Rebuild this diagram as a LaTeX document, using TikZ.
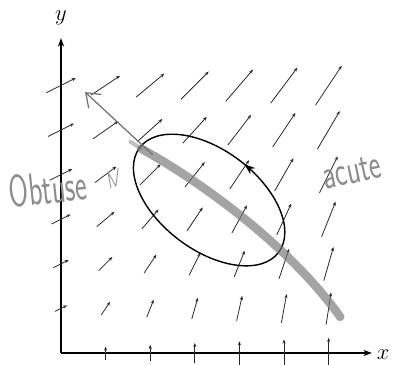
\documentclass[tikz,border=0pt]{standalone}
\usetikzlibrary{arrows.meta,decorations.markings}

\begin{document}
\begin{tikzpicture}[
  vec/.style={-{Stealth[length=2.6pt,width=2pt]}, line width=0.5pt, black!85},
  axis/.style={-{Stealth[length=5.5pt,width=4pt]}, line width=0.7pt},
  orbit/.style={line width=0.9pt, postaction={decorate},
    decoration={markings, mark=at position 0.235 with {\arrow{Stealth[length=7pt,width=5pt]}}}},
  pen/.style={black!55, line cap=round, line join=round},
  note/.style={black!45, font=\sffamily\fontsize{18}{20}\selectfont, inner sep=0pt},
  lbl/.style={font=\fontsize{14}{16}\selectfont, inner sep=1pt}
]
\useasboundingbox (-1.368,-0.247) rectangle (7.466,7.915);
% axes
\coordinate (O) at (0,0);
\coordinate (xend) at (6.97,0);
\coordinate (yend) at (0,7.06);
\draw[axis] (O) -- (xend);
\draw[axis] (O) -- (yend);
\node[lbl] (xlab) at (7.22,-0.04) {$x$};
\node[lbl] (ylab) at (0,7.51) {$y$};
% field F = (y, x + y/2), arrows centred on the grid
\foreach \i in {0,...,6}{
  \foreach \j in {0,...,6}{
    \ifnum\numexpr\i+\j\relax>0
      \pgfmathsetmacro\fx{\j}
      \pgfmathsetmacro\fy{\i+0.5*\j}
      \pgfmathsetmacro\fm{veclen(\fx,\fy)}
      \pgfmathsetmacro\hl{0.5*(0.213+0.0785*\fm)/\fm}
      \draw[vec] ({\i-\hl*\fx},{\j-\hl*\fy}) -- ({\i+\hl*\fx},{\j+\hl*\fy});
    \fi
  }
}
% closed curve
\coordinate (c) at (3.32,3.43);
\draw[orbit, rotate around={-37:(c)}] (c) ellipse [x radius=1.95, y radius=1.12];
% hand marks
\coordinate (s0) at (1.80,4.58);
\coordinate (s1) at (6.26,0.81);
\draw[pen, line width=5.5pt, opacity=0.65] (s0) .. controls (3.3,3.75) and (5.2,2.3) .. (s1);
\draw[pen, line width=2.5pt, opacity=0.45] (1.55,4.74) -- (s0);
\coordinate (tail) at (2.05,4.45);
\coordinate (tip) at (0.54,5.85);
\draw[pen, line width=0.8pt, -{Straight Barb[length=8pt,width=12pt]}] (tail) -- (tip);
\draw[pen, black!40, line width=0.6pt] (1.12,3.70) -- (1.05,4.06) -- (1.23,3.74) -- (1.28,4.15);
\node[note, rotate=6, yscale=1.6] (obtuse) at (-0.29,3.70) {Obtuse};
\node[note, rotate=12, yscale=1.5] (acute) at (6.52,4.06) {acute};
\end{tikzpicture}
\end{document}
